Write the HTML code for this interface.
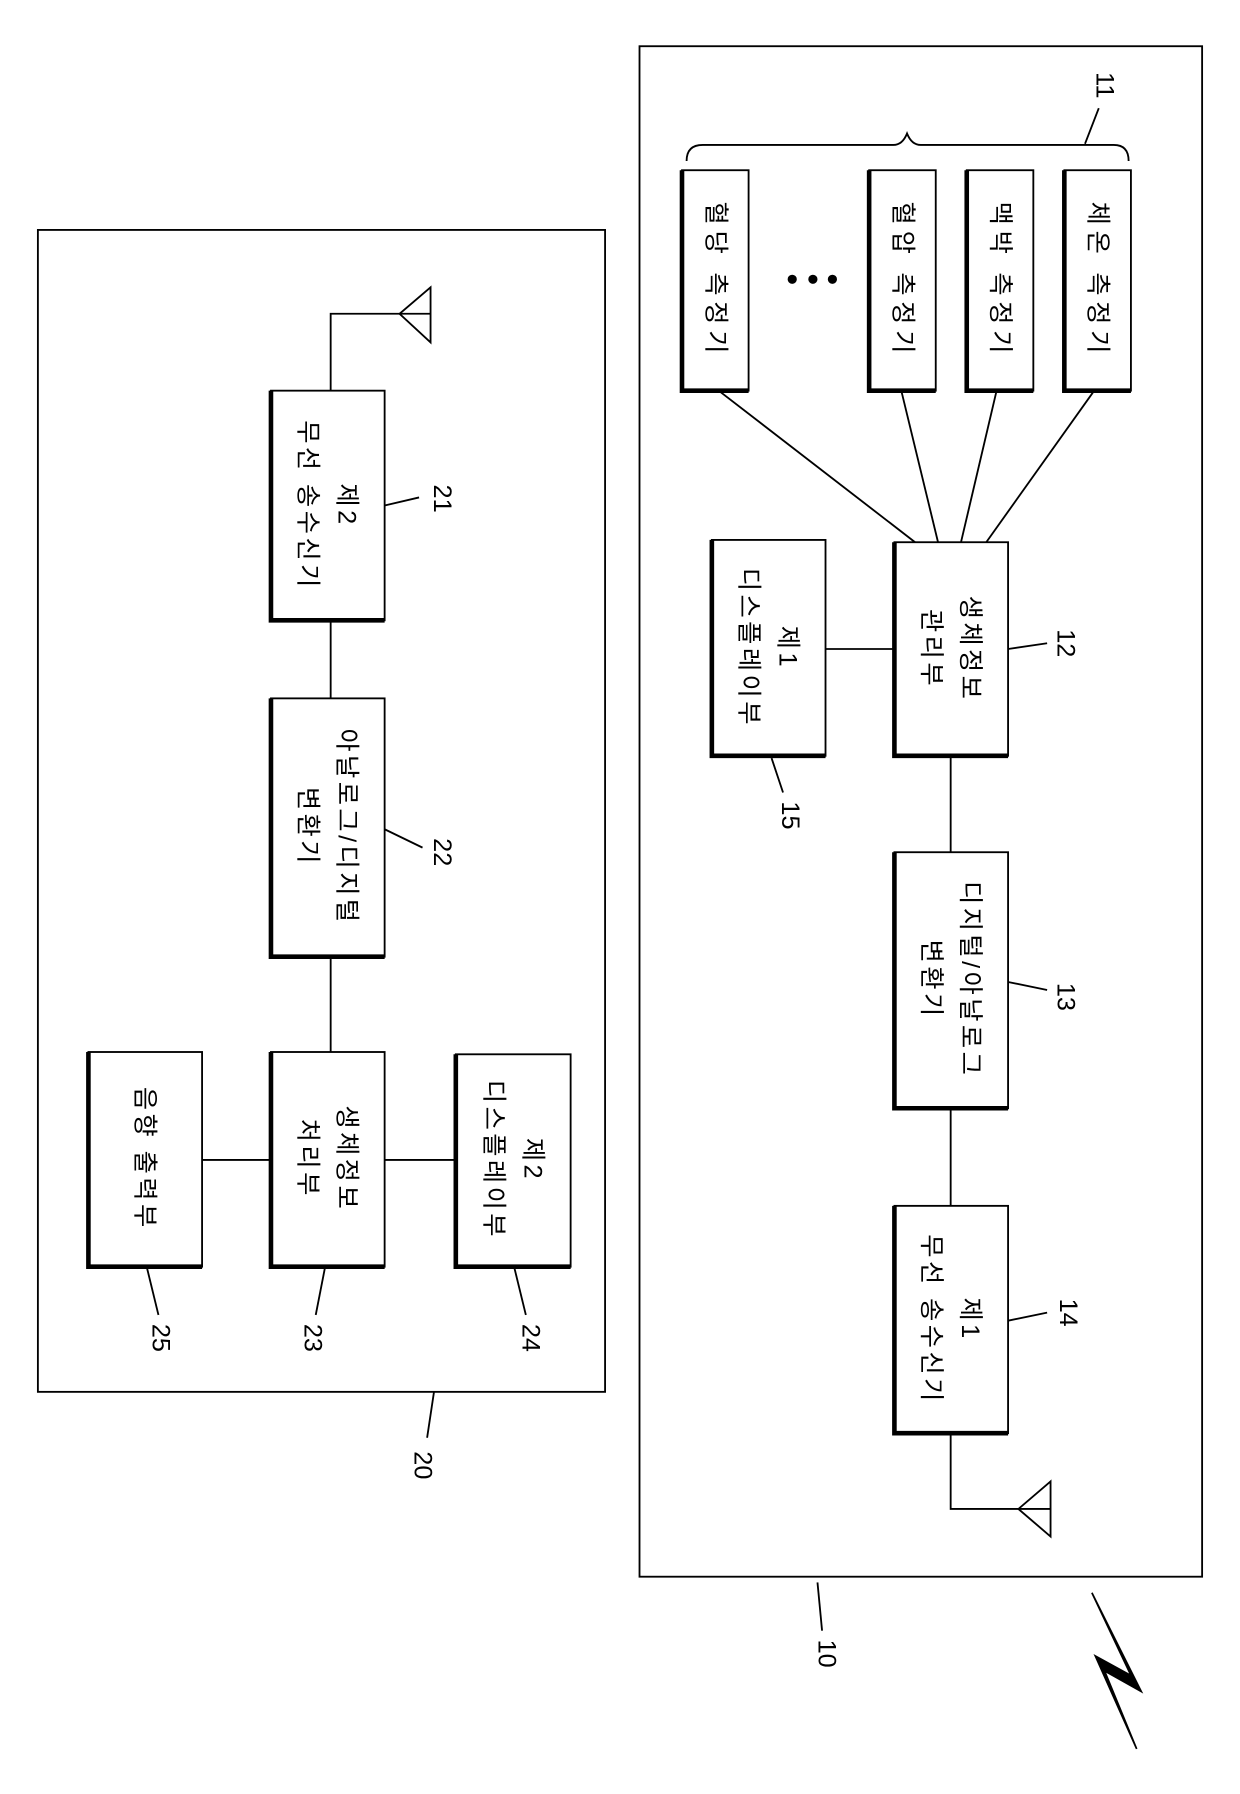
<!DOCTYPE html>
<html><head><meta charset="utf-8"><style>
html,body{margin:0;padding:0;background:#fff;}
svg{display:block;}
text{font-family:"Liberation Sans","Noto Sans CJK KR",sans-serif;fill:#000;}
.k{font-size:22px;letter-spacing:3px;}
.s{letter-spacing:5px;}
.n{font-size:22px;}
</style></head><body>
<svg width="1240" height="1794" viewBox="0 0 1080 1562" xmlns="http://www.w3.org/2000/svg">
<g fill="none" stroke="#000" stroke-width="1.6">
<rect x="557" y="40" width="490" height="1333"/>
<rect x="33" y="200" width="494" height="1012"/>
<rect x="594" y="148" width="58" height="192"/>
<rect x="757" y="148" width="58" height="192"/>
<rect x="842" y="148" width="58" height="192"/>
<rect x="927" y="148" width="58" height="192"/>
<rect x="779" y="472" width="99" height="186"/>
<rect x="620" y="470" width="99" height="188"/>
<rect x="779" y="742" width="99" height="223"/>
<rect x="779" y="1050" width="99" height="198"/>
<rect x="236" y="340" width="99" height="200"/>
<rect x="236" y="608" width="99" height="225"/>
<rect x="236" y="916" width="99" height="187"/>
<rect x="397" y="918" width="100" height="185"/>
<rect x="77" y="916" width="99" height="187"/>
<path d="M598,140 Q598,126 612,126 L778,126 Q786,126 790,116 Q794,126 802,126 L970,126 Q983,126 983,140"/>
<line x1="626" y1="340" x2="797" y2="472"/>
<line x1="785" y1="340" x2="817" y2="472"/>
<line x1="868" y1="340" x2="837" y2="472"/>
<line x1="953" y1="340" x2="859" y2="472"/>
<line x1="719" y1="565" x2="779" y2="565"/>
<line x1="828" y1="658" x2="828" y2="742"/>
<line x1="828" y1="965" x2="828" y2="1050"/>
<polyline points="828,1248 828,1314 915,1314"/>
<path d="M915,1290 L887,1314 L915,1338 Z"/>
<line x1="288" y1="540" x2="288" y2="608"/>
<line x1="288" y1="833" x2="288" y2="916"/>
<line x1="335" y1="1010" x2="397" y2="1010"/>
<line x1="176" y1="1010" x2="236" y2="1010"/>
<polyline points="288,340 288,273 375,273"/>
<path d="M375,250 L348,273 L375,298 Z"/>
<line x1="945" y1="125" x2="957" y2="94"/>
<line x1="878" y1="565" x2="912" y2="560"/>
<line x1="672" y1="660" x2="682" y2="690"/>
<line x1="878" y1="855" x2="912" y2="862"/>
<line x1="878" y1="1150" x2="912" y2="1143"/>
<line x1="712" y1="1378" x2="716" y2="1420"/>
<line x1="378" y1="1212" x2="372" y2="1252"/>
<line x1="335" y1="440" x2="365" y2="433"/>
<line x1="335" y1="722" x2="368" y2="738"/>
<line x1="283" y1="1104" x2="275" y2="1145"/>
<line x1="448" y1="1104" x2="458" y2="1145"/>
<line x1="128" y1="1104" x2="138" y2="1145"/>
</g>
<g stroke="#000" stroke-width="4" fill="none">
<polyline points="594,148 594,340 652,340"/>
<polyline points="757,148 757,340 815,340"/>
<polyline points="842,148 842,340 900,340"/>
<polyline points="927,148 927,340 985,340"/>
<polyline points="779,472 779,658 878,658"/>
<polyline points="620,470 620,658 719,658"/>
<polyline points="779,742 779,965 878,965"/>
<polyline points="779,1050 779,1248 878,1248"/>
<polyline points="236,340 236,540 335,540"/>
<polyline points="236,608 236,833 335,833"/>
<polyline points="236,916 236,1103 335,1103"/>
<polyline points="397,918 397,1103 497,1103"/>
<polyline points="77,916 77,1103 176,1103"/>
</g>
<circle cx="690" cy="243" r="4"/><circle cx="708" cy="243" r="4"/><circle cx="725" cy="243" r="4"/>
<path d="M951,1387 L994,1473 L962,1455 L990,1523 L954,1442 L985,1459 Z" fill="#000" stroke="#000" stroke-width="1.5" stroke-linejoin="miter"/>
<g class="k" text-anchor="middle" dominant-baseline="central">
<text class="s" transform="translate(623,244) rotate(90)">혈당 측정기</text>
<text class="s" transform="translate(786,244) rotate(90)">혈압 측정기</text>
<text class="s" transform="translate(871,244) rotate(90)">맥박 측정기</text>
<text class="s" transform="translate(956,244) rotate(90)">체온 측정기</text>
<text transform="translate(828,565) rotate(90)"><tspan x="0" y="-17">생체정보</tspan><tspan x="0" y="17">관리부</tspan></text>
<text transform="translate(669,564) rotate(90)"><tspan x="0" y="-17">제1</tspan><tspan x="0" y="17">디스플레이부</tspan></text>
<text transform="translate(828,853) rotate(90)"><tspan x="0" y="-17">디지털/아날로그</tspan><tspan x="0" y="17">변환기</tspan></text>
<text transform="translate(828,1149) rotate(90)"><tspan x="0" y="-17">제1</tspan><tspan x="0" y="17">무선 송수신기</tspan></text>
<text transform="translate(285,440) rotate(90)"><tspan x="0" y="-17">제2</tspan><tspan x="0" y="17">무선 송수신기</tspan></text>
<text transform="translate(285,720) rotate(90)"><tspan x="0" y="-17">아날로그/디지털</tspan><tspan x="0" y="17">변환기</tspan></text>
<text transform="translate(285,1009) rotate(90)"><tspan x="0" y="-17">생체정보</tspan><tspan x="0" y="17">처리부</tspan></text>
<text transform="translate(447,1010) rotate(90)"><tspan x="0" y="-17">제2</tspan><tspan x="0" y="17">디스플레이부</tspan></text>
<text transform="translate(126,1009) rotate(90)">음향 출력부</text>
</g>
<g class="n" text-anchor="middle" dominant-baseline="central">
<text transform="translate(962,74) rotate(90)">11</text>
<text transform="translate(928,560) rotate(90)">12</text>
<text transform="translate(928,868) rotate(90)">13</text>
<text transform="translate(930,1143) rotate(90)">14</text>
<text transform="translate(688,710) rotate(90)">15</text>
<text transform="translate(720,1440) rotate(90)">10</text>
<text transform="translate(385,434) rotate(90)">21</text>
<text transform="translate(385,742) rotate(90)">22</text>
<text transform="translate(272,1165) rotate(90)">23</text>
<text transform="translate(462,1165) rotate(90)">24</text>
<text transform="translate(140,1165) rotate(90)">25</text>
<text transform="translate(368,1276) rotate(90)">20</text>
</g>
</svg>
</body></html>
